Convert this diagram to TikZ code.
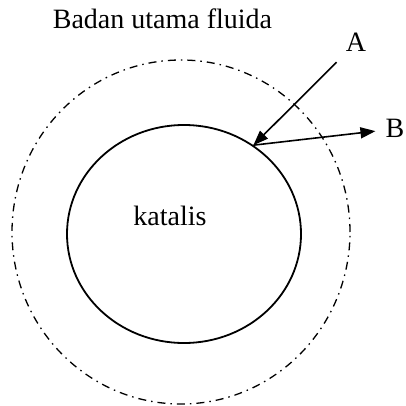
\documentclass[tikz,border=0pt]{standalone}
\usepackage{fontspec}
\setmainfont{Liberation Serif}
\newfontfamily\tnr{Liberation Serif}
\usepackage{tikz}
\usetikzlibrary{arrows.meta,shapes.geometric}

\begin{document}
\begin{tikzpicture}[
    x=1pt, y=1pt,
    lbl/.style={font=\tnr\fontsize{28}{34}\selectfont, anchor=base},
    tip/.style={lbl, inner sep=10pt},
    partikel/.style={ellipse, draw, line width=1.8pt, inner sep=0pt,
                     minimum width=234pt, minimum height=218pt},
    lapisan/.style={ellipse, draw, line width=1.3pt, inner sep=0pt,
                    dash pattern=on 8pt off 5pt on 1.5pt off 5pt,
                    minimum width=338pt, minimum height=344pt},
    arrow/.style={-{Triangle[length=15pt,width=11pt]}, line width=1.6pt}
  ]
    \useasboundingbox (0,0) rectangle (405,-406);

    \node[lapisan]  (film) at (181,-232) {};
    \node[partikel] (cat)  at (184,-234) {};

    \node[lbl] (fluida)  at (162.5,-29) {Badan utama fluida};
    \node[lbl] (katalis) at (170,-225)  {katalis};
    \node[tip] (A) at (356,-52)  {A};
    \node[tip] (B) at (395,-138) {B};

    \draw[arrow] (A)      -- (cat.52);
    \draw[arrow] (cat.52) -- (B);
\end{tikzpicture}
\end{document}
